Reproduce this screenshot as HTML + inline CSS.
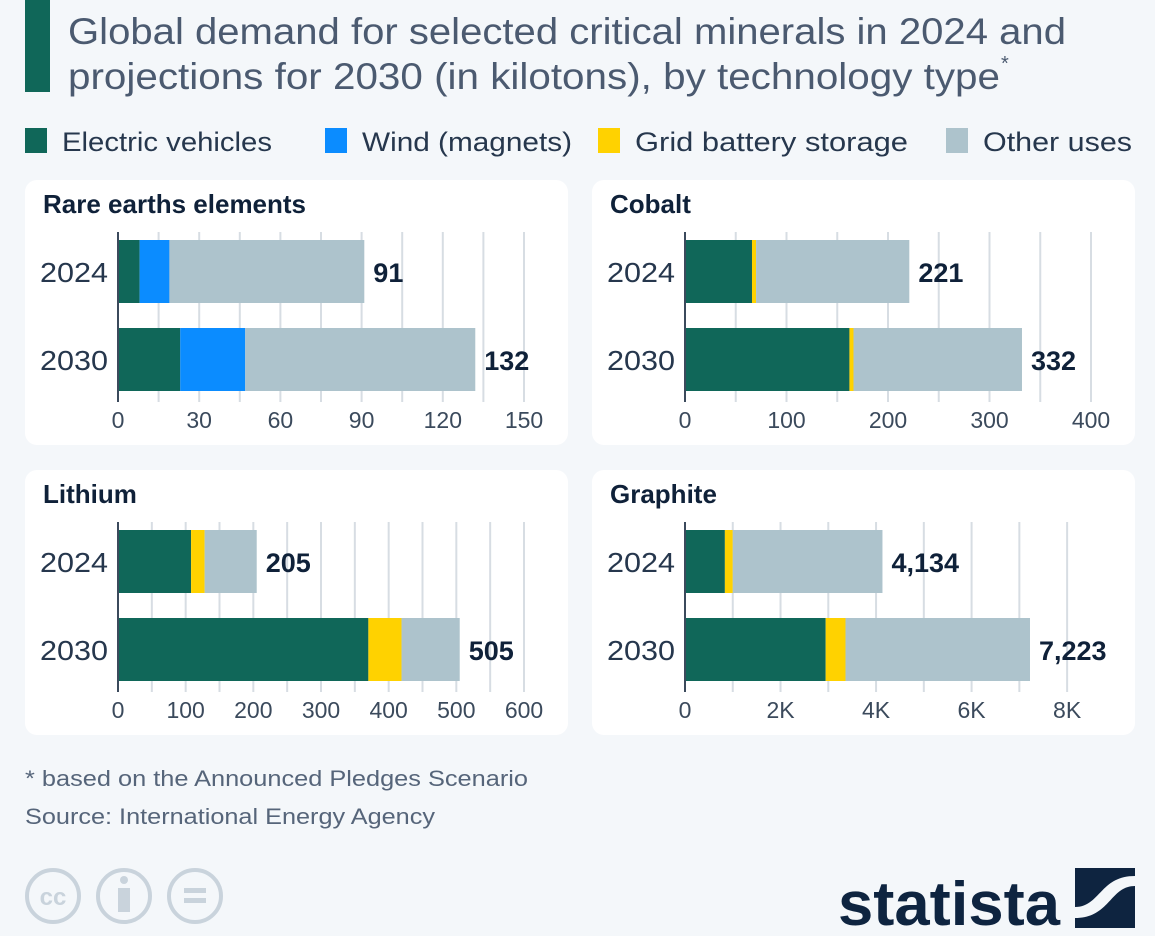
<!DOCTYPE html>
<html><head><meta charset="utf-8"><style>
body{margin:0;background:#f4f7fa;}
svg{display:block;font-family:"Liberation Sans",sans-serif;}
</style></head><body>
<svg id="c" width="1155" height="936" viewBox="0 0 1155 936">
<rect width="1155" height="936" fill="#f4f7fa"/>
<rect x="25" y="0" width="25" height="92" fill="#106759"/>
<text x="68" y="44" font-size="37" fill="#4b5a70" textLength="998" lengthAdjust="spacingAndGlyphs">Global demand for selected critical minerals in 2024 and</text>
<text x="68" y="89" font-size="37" fill="#4b5a70" textLength="932" lengthAdjust="spacingAndGlyphs">projections for 2030 (in kilotons), by technology type</text>
<text x="1001" y="70" font-size="20" fill="#4b5a70">*</text>
<g id="legend"></g>
<g id="panels"></g>
<text x="25" y="786" font-size="22" fill="#56657a" textLength="503" lengthAdjust="spacingAndGlyphs">* based on the Announced Pledges Scenario</text>
<text x="25" y="824" font-size="22" fill="#56657a" textLength="410" lengthAdjust="spacingAndGlyphs">Source: International Energy Agency</text>
<g fill="none" stroke="#c9d3dc" stroke-width="4">
<circle cx="53" cy="896" r="26"/><circle cx="124" cy="896" r="26"/><circle cx="195" cy="896" r="26"/>
</g>
<text x="53" y="905" font-size="24" font-weight="bold" fill="#c9d3dc" text-anchor="middle">cc</text>
<rect x="118" y="888" width="12" height="24" fill="#c9d3dc"/>
<circle cx="124" cy="880" r="4" fill="#c9d3dc"/>
<rect x="184" y="888" width="22" height="5" fill="#c9d3dc"/>
<rect x="184" y="898" width="22" height="5" fill="#c9d3dc"/>
<text x="838" y="925" font-size="62" font-weight="bold" fill="#0e2440" textLength="222" lengthAdjust="spacingAndGlyphs">statista</text>
<rect x="1075" y="868" width="60" height="60" fill="#0e2440"/>
<path d="M1075 907 C1100 907 1100 876 1135 876 L1135 886 C1110 886 1110 918 1075 918 Z" fill="#f4f7fa"/>
</svg>
<script>
const seriesNames = ["Electric vehicles","Wind (magnets)","Grid battery storage","Other uses"];
const colors = ["#106759","#0b8cff","#ffd200","#adc3cc"];
const years = ["2024","2030"];
const panelTitles = ["Rare earths elements","Cobalt","Lithium","Graphite"];
const rareEarths = [[8,11,0,72],[23,24,0,85]];
const cobalt = [[66,0,4,151],[162,0,4,166]];
const lithium = [[108,0,20,77],[370,0,49,86]];
const graphite = [[835,0,165,3134],[2945,0,415,3863]];
const totalLabels = [["91","132"],["221","332"],["205","505"],["4,134","7,223"]];
const ticks = [[0,30,60,90,120,150],[0,100,200,300,400],[0,100,200,300,400,500,600],[0,2000,4000,6000,8000]];
const tickLabels = [["0","30","60","90","120","150"],["0","100","200","300","400"],["0","100","200","300","400","500","600"],["0","2K","4K","6K","8K"]];
const domainMax = [150,400,600,8500];
const gridSteps = [15,50,50,1000];
const allData = [rareEarths,cobalt,lithium,graphite];

const NS="http://www.w3.org/2000/svg";
function el(tag,attrs,parent){const e=document.createElementNS(NS,tag);for(const k in attrs)e.setAttribute(k,attrs[k]);parent.appendChild(e);return e;}
const leg=document.getElementById('legend');
const legX=[25,325,598,946], legW=[210,210,273,149];
seriesNames.forEach((n,i)=>{
  const r=el('rect',{x:legX[i],y:128,width:22,height:25,fill:colors[i]},leg);
  
  
  const t=el('text',{x:legX[i]+37,y:151,'font-size':27,fill:'#26374d',textLength:legW[i],lengthAdjust:'spacingAndGlyphs'},leg);
  t.textContent=n;
  
  
});
const panelsG=document.getElementById('panels');
const px=[25,592,25,592], py=[180,180,470,470];
allData.forEach((data,p)=>{
  const g=el('g',{},panelsG);
  
  
  const ox=px[p], oy=py[p];
  el('rect',{x:ox,y:oy,width:543,height:265,rx:12,fill:'#ffffff'},g);
  const tt=el('text',{x:ox+18,y:oy+33,'font-size':26,'font-weight':'bold',fill:'#0f2139'},g);
  tt.textContent=panelTitles[p];
  
  const x0=ox+93;
  const tk=ticks[p], maxT=domainMax[p];
  const sx=v=>x0+v*(406/maxT);
  for(let v=gridSteps[p];v<=maxT;v+=gridSteps[p]){
    el('line',{x1:sx(v),x2:sx(v),y1:oy+52,y2:oy+222,stroke:'#d7dde3','stroke-width':2},g);
  }
  const by=[oy+60,oy+148];
  data.forEach((vals,r)=>{
    let acc=0;
    vals.forEach((v,s)=>{
      if(v<=0)return;
      const b=el('rect',{x:sx(acc),y:by[r],width:sx(acc+v)-sx(acc),height:63,fill:colors[s]},g);
      
      
      acc+=v;
    });
    const lbl=el('text',{x:sx(acc)+9,y:by[r]+42,'font-size':27,'font-weight':'bold',fill:'#0f2139'},g);
    lbl.textContent=totalLabels[p][r];
    
    const yl=el('text',{x:x0-10,y:by[r]+42,'font-size':28,fill:'#26374d','text-anchor':'end',textLength:68,lengthAdjust:'spacingAndGlyphs'},g);
    yl.textContent=years[r];
    
  });
  el('line',{x1:x0,x2:x0,y1:oy+52,y2:oy+222,stroke:'#3b4a5c','stroke-width':2},g);
  tk.forEach((v,i)=>{
    const t=el('text',{x:sx(v),y:oy+248,'font-size':23,fill:'#3b4a5c','text-anchor':'middle'},g);
    t.textContent=tickLabels[p][i];
    
  });
});
</script>
</body></html>
